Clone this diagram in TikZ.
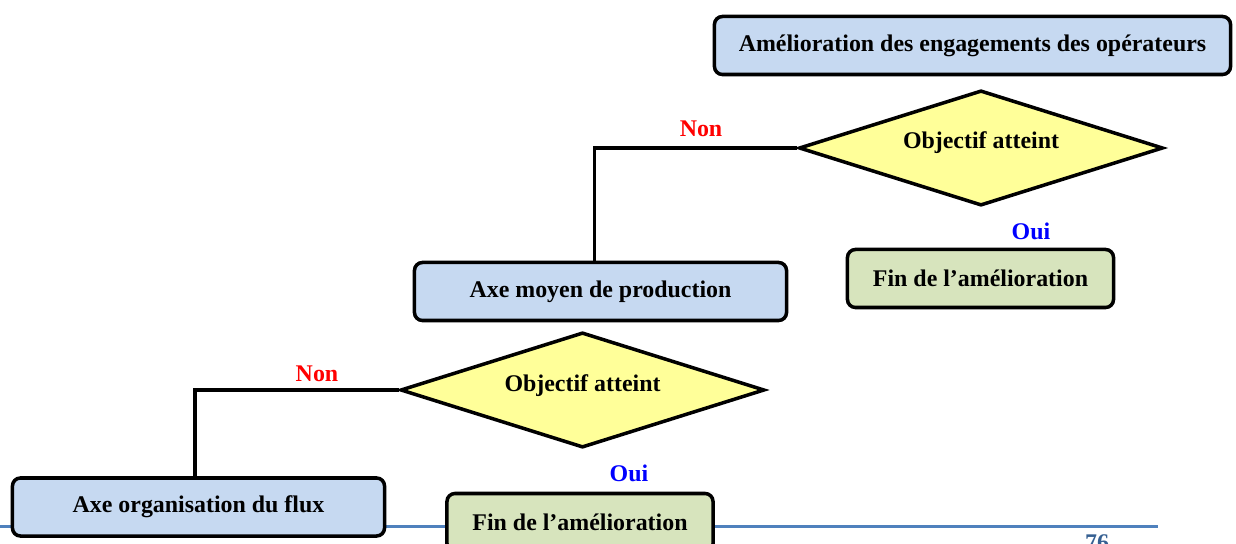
\documentclass[tikz,border=0pt]{standalone}
\usepackage{fontspec}
\setmainfont{Liberation Serif}
\usepackage{tikz}
\usetikzlibrary{shapes.geometric}
\definecolor{BoxBlue}{RGB}{198, 217, 241}
\definecolor{BoxGreen}{RGB}{215, 228, 189}
\definecolor{Decision}{RGB}{255, 255, 153}
\definecolor{RuleBlue}{RGB}{79, 129, 189}
\definecolor{PageNum}{RGB}{54, 96, 146}

\begin{document}
\begin{tikzpicture}[x=0.025cm, y=-0.025cm,
    every node/.style = {font=\fontsize{17}{20}\selectfont\bfseries},
    box/.style = {draw, line width=2.5pt, rounded corners=0.2cm,
        minimum height=1.45cm, align=center},
    axe/.style = {box, fill=BoxBlue},
    fin/.style = {box, fill=BoxGreen, minimum width=6.65cm},
    decision/.style = {draw, diamond, fill=Decision, line width=2.5pt,
        aspect=3.1, minimum width=9.1cm, minimum height=2.88cm,
        text height=0.4cm, text depth=0.35cm},
    link/.style = {line width=2.5pt},
    non/.style = {text=red},
    oui/.style = {text=blue}]
    \useasboundingbox (0,0) rectangle (1236,544);
    \clip (0,0) rectangle (1236,544);
    % Page rule
    \draw[RuleBlue, line width=0.075cm] (0,526) to (1158,526);
    \node[text=PageNum] (page) at (1097,543) {76};
    % Upper branch
    \node[axe, minimum width=12.9cm] (engag) at (972.5,45.5)
        {Amélioration des engagements des opérateurs};
    \node[decision] (obj1) at (981,148) {Objectif atteint};
    \node[fin] (fin1) at (980.5,278.5) {Fin de l’amélioration};
    \node[axe, minimum width=9.3cm] (moyen) at (600.5,291.5)
        {Axe moyen de production};
    \node[non] (non1) at (701,129) {Non};
    \node[oui] (oui1) at (1031,231) {Oui};
    \draw[link] (obj1.west) -| ([xshift=-0.15cm]moyen.north);
    % Lower branch
    \node[decision] (obj2) at (582.5,390) {Objectif atteint};
    \node[fin] (fin2) at (580,522.5) {Fin de l’amélioration};
    \node[axe, minimum width=9.3cm] (flux) at (198.5,507)
        {Axe organisation du flux};
    \node[non] (non2) at (317,374) {Non};
    \node[oui] (oui2) at (629,473) {Oui};
    \draw[link] (obj2.west) -| ([xshift=-0.09cm]flux.north);
\end{tikzpicture}
\end{document}
